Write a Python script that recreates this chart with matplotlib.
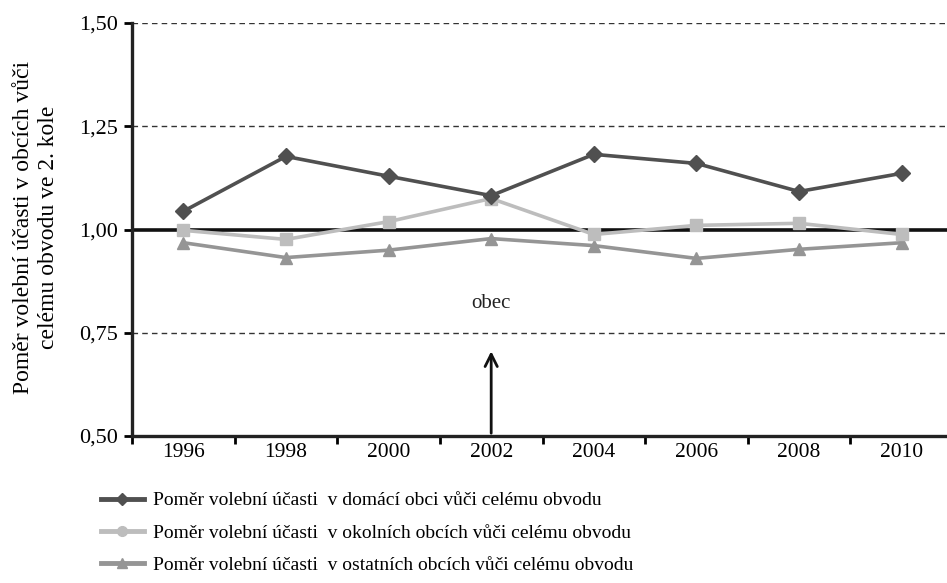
import matplotlib
matplotlib.use("Agg")
import matplotlib.pyplot as plt
from matplotlib.lines import Line2D
import numpy as np

plt.rcParams["font.family"] = ["Liberation Serif", "DejaVu Serif"]

years = ["1996", "1998", "2000", "2002", "2004", "2006", "2008", "2010"]
domaci = [1.044, 1.177, 1.129, 1.082, 1.182, 1.160, 1.092, 1.136]
okolni = [0.998, 0.976, 1.019, 1.075, 0.988, 1.010, 1.015, 0.988]
ostatni = [0.968, 0.932, 0.950, 0.978, 0.961, 0.930, 0.952, 0.968]
labels = [
    "Poměr volební účasti  v domácí obci vůči celému obvodu",
    "Poměr volební účasti  v okolních obcích vůči celému obvodu",
    "Poměr volební účasti  v ostatních obcích vůči celému obvodu",
]
colors = ["#505050", "#bdbdbd", "#959595"]
yticks = [0.50, 0.75, 1.00, 1.25, 1.50]

W, H = 947, 583
fig = plt.figure(figsize=(W / 100, H / 100), dpi=100)
# plot area runs past the right edge like in the source
ax = fig.add_axes([132 / W, 1 - 436 / H, (953 - 132) / W, (436 - 23) / H])

x = np.arange(len(years))
for yy in [0.75, 1.25, 1.50]:
    ax.axhline(yy, color="#333333", lw=1, ls=(0, (4, 3)), zorder=1)
ax.axhline(1.0, color="#111111", lw=2.6, zorder=2)

ax.plot(x, domaci, color=colors[0], lw=2.6, marker="D", ms=8, zorder=5)
ax.plot(x, okolni, color=colors[1], lw=2.6, marker="s", ms=9, zorder=4)
ax.plot(x, ostatni, color=colors[2], lw=2.6, marker="^", ms=9, zorder=3)

ax.annotate("", xy=(3, 0.712), xytext=(3, 0.5),
            arrowprops=dict(arrowstyle="->", color="#111111", lw=2,
                            mutation_scale=22), zorder=6)
ax.text(3, 0.82, "obec", ha="center", va="center", fontsize=15, color="#222222")

ax.set_xlim(-0.5, len(years) - 0.5)
ax.set_ylim(0.5, 1.5)
ax.set_yticks(yticks)
ax.set_yticklabels([f"{v:.2f}".replace(".", ",") for v in yticks], fontsize=16)
ax.set_xticks(x)
ax.set_xticklabels(years, fontsize=15.5)
ax.set_xticks(np.arange(len(years) + 1) - 0.5, minor=True)
ax.tick_params(axis="x", which="major", length=0, pad=5)
ax.tick_params(axis="x", which="minor", length=6, width=2, direction="out")
ax.tick_params(axis="y", length=6, width=2, direction="out", pad=4)
for s in ("top", "right"):
    ax.spines[s].set_visible(False)
for s in ("left", "bottom"):
    ax.spines[s].set_linewidth(2.4)
    ax.spines[s].set_color("#222222")

fig.text(36 / W, 1 - 227 / H, "Poměr volební účasti v obcích vůči\ncelému obvodu ve 2. kole",
         rotation=90, ha="center", va="center", fontsize=17, linespacing=1.2)

handles = [
    Line2D([0], [0], color=colors[0], lw=3.5, marker="D", ms=6),
    Line2D([0], [0], color=colors[1], lw=3.5, marker="o", ms=7),
    Line2D([0], [0], color=colors[2], lw=3.5, marker="^", ms=7),
]
fig.legend(handles, labels, loc="upper left", bbox_to_anchor=(93 / W, 1 - 484 / H),
           frameon=False, fontsize=14, handlelength=2.2, handletextpad=0.5,
           labelspacing=0.75, borderaxespad=0)

fig.savefig("out.png", dpi=100)
